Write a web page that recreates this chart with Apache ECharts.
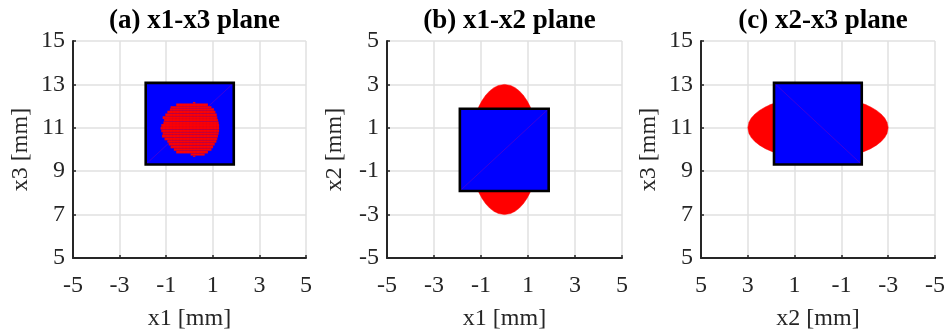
<!DOCTYPE html>
<html><head><meta charset="utf-8">
<script src="https://cdn.jsdelivr.net/npm/echarts@6/dist/echarts.min.js"></script>
<style>html,body{margin:0;padding:0;background:#fff}#c{width:947px;height:330px}</style>
</head><body><div id="c"></div>
<script>
// ---------- data ----------
const titles = ['(a) x1-x3 plane', '(b) x1-x2 plane', '(c) x2-x3 plane'];
const xNames = ['x1 [mm]', 'x1 [mm]', 'x2 [mm]'];
const yNames = ['x3 [mm]', 'x2 [mm]', 'x3 [mm]'];
const xTicks = [-5, -3, -1, 1, 3, 5];
const yTicksA = [5, 7, 9, 11, 13, 15];
const yTicksB = [-5, -3, -1, 1, 3, 5];
const yTicksC = [5, 7, 9, 11, 13, 15];

// blue square extents [xmin, xmax, ymin, ymax]
const squareA = [-1.88, 1.90, 9.31, 13.07];
const squareB = [-1.90, 1.88, -1.91, 1.88];
const squareC = [-1.87, 1.88, 9.31, 13.07];

// voxel rows of red region in (a): [x3Low, x3High, x1Left, x1Right]
const rowsA = [
  [12.12, 12.19, 0.15, 0.25],
  [11.99, 12.12, -0.57, 0.79],
  [11.90, 11.99, -0.81, 0.94],
  [11.78, 11.90, -0.84, 1.05],
  [11.66, 11.78, -0.95, 1.11],
  [11.53, 11.66, -1.04, 1.17],
  [11.41, 11.53, -1.15, 1.19],
  [11.29, 11.41, -1.09, 1.22],
  [11.17, 11.29, -1.12, 1.25],
  [11.04, 11.17, -1.21, 1.27],
  [10.92, 11.04, -1.24, 1.27],
  [10.80, 10.92, -1.21, 1.27],
  [10.68, 10.80, -1.15, 1.25],
  [10.55, 10.68, -1.18, 1.22],
  [10.43, 10.55, -1.07, 1.19],
  [10.31, 10.43, -0.95, 1.15],
  [10.19, 10.31, -0.89, 1.08],
  [10.06, 10.19, -0.81, 1.01],
  [9.94, 10.06, -0.67, 0.94],
  [9.82, 9.94, -0.57, 0.79],
  [9.72, 9.82, 0.05, 0.65],
  [9.66, 9.72, 0.15, 0.25]
];

// red ellipsoid section profile seen in (b) and (c):
// distance from centre along x2 [mm] and half-width across it [mm]
const profAlong = [3.00, 2.95, 2.85, 2.70, 2.50, 2.25, 2.00, 1.70, 1.30, 0.80, 0.00];
const profHalf  = [0.00, 0.26, 0.45, 0.63, 0.80, 0.96, 1.08, 1.19, 1.31, 1.40, 1.45];
const centreB = [0, 0];    // (x1, x2)
const centreC = [0, 11];   // (x2, x3)

// ---------- rendering ----------
const FONT = 'Liberation Serif';
const AXIS_COLOR = '#262626';
const gridsPx = [
  {left: 73, top: 41, width: 233, height: 217},
  {left: 387, top: 41, width: 235, height: 217},
  {left: 701, top: 41, width: 234, height: 217}
];

function squareRender(params, api) {
  const x0 = api.value(0), x1 = api.value(1), y0 = api.value(2), y1 = api.value(3);
  const a = api.coord([x0, y0]), b = api.coord([x1, y1]);
  const rx = Math.min(a[0], b[0]), ry = Math.min(a[1], b[1]);
  const rw = Math.abs(b[0] - a[0]), rh = Math.abs(b[1] - a[1]);
  return {type: 'group', children: [
    {type: 'rect', shape: {x: rx, y: ry, width: rw, height: rh}, style: {fill: '#0000ff', stroke: null}},
    {type: 'line', shape: {x1: a[0], y1: a[1], x2: b[0], y2: b[1]}, style: {stroke: 'rgba(150,0,170,0.55)', lineWidth: 0.7}},
    {type: 'rect', shape: {x: rx, y: ry, width: rw, height: rh}, style: {fill: null, stroke: '#000', lineWidth: 2.6}}
  ]};
}

function rowRender(params, api) {
  const y0 = api.value(0), y1 = api.value(1), xl = api.value(2), xr = api.value(3);
  const a = api.coord([xl, y0]), b = api.coord([xr, y1]);
  const rx = Math.min(a[0], b[0]), ry = Math.min(a[1], b[1]);
  const rw = Math.abs(b[0] - a[0]), rh = Math.abs(b[1] - a[1]);
  const children = [
    {type: 'rect', shape: {x: rx, y: ry, width: rw, height: rh}, style: {fill: '#ff0000', stroke: 'rgba(140,0,110,0.25)', lineWidth: 0.5}}
  ];
  const step = 0.145;
  for (let v = Math.ceil(xl / step) * step; v < xr; v += step) {
    const p = api.coord([v, y0]);
    children.push({type: 'line', shape: {x1: p[0], y1: ry, x2: p[0], y2: ry + rh}, style: {stroke: 'rgba(140,0,110,0.22)', lineWidth: 0.5}});
  }
  return {type: 'group', children};
}

// build outline from profile; vertical=true: long axis along y
function ellipseRender(centre, vertical) {
  return function (params, api) {
    if (params.dataIndex !== 0) return null;
    const n = profAlong.length;
    const quad = [];
    for (let i = 0; i < n; i++) quad.push([profAlong[i], profHalf[i]]);
    const pts = [];
    const signs = [[1, 1], [-1, 1], [-1, -1], [1, -1]];
    signs.forEach((s, q) => {
      const seq = (q % 2 === 0) ? quad : quad.slice().reverse();
      seq.forEach(([d, w]) => {
        const along = s[0] * d, across = s[1] * w;
        const v = vertical ? [centre[0] + across, centre[1] + along] : [centre[0] + along, centre[1] + across];
        pts.push(api.coord(v));
      });
    });
    return {type: 'polygon', shape: {points: pts}, style: {fill: '#ff0000', stroke: '#ff0000', lineWidth: 0.5}};
  };
}

function xAxis(i, inverse) {
  return {
    type: 'value', gridIndex: i, min: -5, max: 5, inverse: !!inverse,
    name: xNames[i], nameLocation: 'middle', nameGap: 49,
    nameTextStyle: {fontFamily: FONT, fontSize: 24, color: AXIS_COLOR},
    axisLine: {show: true, onZero: false, lineStyle: {color: AXIS_COLOR, width: 2}},
    axisTick: {show: true, inside: true, length: 3, customValues: xTicks, lineStyle: {color: AXIS_COLOR, width: 1.5}},
    axisLabel: {customValues: xTicks, margin: 16, fontFamily: FONT, fontSize: 24, color: AXIS_COLOR},
    splitLine: {show: true, lineStyle: {color: '#e0e0e0', width: 1.5}}
  };
}
function yAxis(i, ticks) {
  return {
    type: 'value', gridIndex: i, min: ticks[0], max: ticks[ticks.length - 1],
    name: yNames[i], nameLocation: 'middle', nameGap: 40,
    nameTextStyle: {fontFamily: FONT, fontSize: 24, color: AXIS_COLOR},
    axisLine: {show: true, onZero: false, lineStyle: {color: AXIS_COLOR, width: 2}},
    axisTick: {show: true, inside: true, length: 3, customValues: ticks, lineStyle: {color: AXIS_COLOR, width: 1.5}},
    axisLabel: {customValues: ticks, margin: 8, fontFamily: FONT, fontSize: 24, color: AXIS_COLOR},
    splitLine: {show: true, lineStyle: {color: '#e0e0e0', width: 1.5}}
  };
}

const titleCenters = gridsPx.map(g => g.left + g.width / 2);

const option = {
  backgroundColor: '#fff',
  animation: false,
  title: titles.map((t, i) => ({
    text: t, left: titleCenters[i], top: 3, textAlign: 'center',
    textStyle: {fontFamily: FONT, fontSize: 27, fontWeight: 'bold', color: '#000'}
  })),
  grid: gridsPx.map(g => Object.assign({containLabel: false, outerBoundsMode: 'none'}, g)),
  xAxis: [xAxis(0), xAxis(1), xAxis(2, true)],
  yAxis: [yAxis(0, yTicksA), yAxis(1, yTicksB), yAxis(2, yTicksC)],
  series: [
    {type: 'custom', xAxisIndex: 0, yAxisIndex: 0, renderItem: squareRender, data: [squareA], z: 2, clip: true},
    {type: 'custom', xAxisIndex: 0, yAxisIndex: 0, renderItem: rowRender, data: rowsA, z: 3, clip: true},
    {type: 'custom', xAxisIndex: 1, yAxisIndex: 1, renderItem: ellipseRender(centreB, true), data: [centreB], z: 2, clip: true},
    {type: 'custom', xAxisIndex: 1, yAxisIndex: 1, renderItem: squareRender, data: [squareB], z: 3, clip: true},
    {type: 'custom', xAxisIndex: 2, yAxisIndex: 2, renderItem: ellipseRender(centreC, false), data: [centreC], z: 2, clip: true},
    {type: 'custom', xAxisIndex: 2, yAxisIndex: 2, renderItem: squareRender, data: [squareC], z: 3, clip: true}
  ]
};

const chart = echarts.init(document.getElementById('c'), null, {renderer: 'canvas'});
chart.setOption(option);
</script>
</body></html>
